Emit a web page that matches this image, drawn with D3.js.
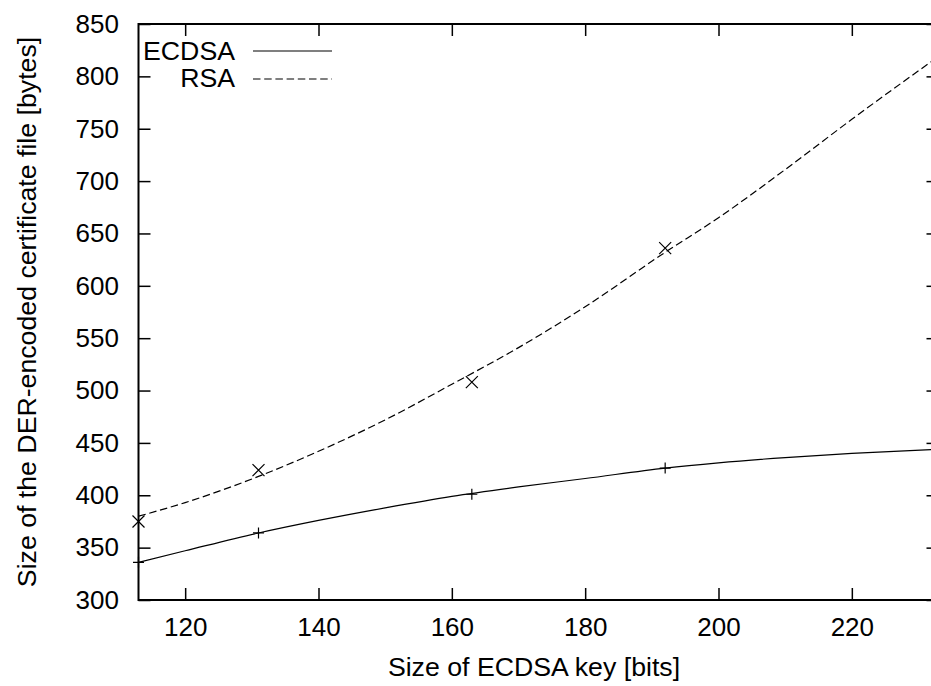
<!DOCTYPE html>
<html>
<head>
<meta charset="utf-8">
<script src="https://cdn.jsdelivr.net/npm/d3@7"></script>
<style>
  html, body { margin: 0; padding: 0; background: #fff; }
  svg { display: block; font-family: "Liberation Sans", Arial, Helvetica, sans-serif; }
</style>
</head>
<body>
<svg id="chart" width="931" height="686"></svg>
<script>
// Measured certificate sizes for each ECDSA key size
const keyBits    = [113, 131, 163, 192];
const ecdsaBytes = [336, 364, 401, 426];
const rsaBytes   = [375, 424, 508, 636];

// Fitted trend curves, sampled along the key-size axis
const fitBits  = [113, 120, 131, 140, 150, 160, 170, 180, 192, 200, 210, 220, 233];
const ecdsaFit = [336, 347, 364, 376, 388, 399, 408, 416, 426, 431, 436, 440, 444];
const rsaFit   = [380, 393, 418, 442, 472, 506, 541, 580, 632, 665, 711, 759, 819];

const xTicks = [120, 140, 160, 180, 200, 220];
const yTicks = [300, 350, 400, 450, 500, 550, 600, 650, 700, 750, 800, 850];

const seriesNames = ["ECDSA", "RSA"];
const xLabel = "Size of ECDSA key [bits]";
const yLabel = "Size of the DER-encoded certificate file [bytes]";

const svg = d3.select("#chart");
const W = 931, H = 686;
const m = { left: 138.5, top: 24, right: 938.5, bottom: 600 };
const TICK_FONT = 26;
const LABEL_FONT = 26.7;

svg.append("rect").attr("width", W).attr("height", H).attr("fill", "#fff");

const x = d3.scaleLinear().domain([113, 233]).range([m.left, m.right]);
const y = d3.scaleLinear().domain([300, 850]).range([m.bottom, m.top]);

const TICK = 12;

function styleAxis(g, showText) {
  g.select(".domain").remove();
  g.selectAll(".tick line").attr("stroke", "#000").attr("stroke-width", 1.5);
  g.selectAll(".tick text")
    .attr("fill", "#000")
    .style("font-size", TICK_FONT + "px")
    .style("font-family", "\"Liberation Sans\", Arial, Helvetica, sans-serif");
  if (!showText) g.selectAll(".tick text").remove();
}

// bottom axis with labels, inward ticks
svg.append("g")
  .attr("transform", `translate(0,${m.bottom})`)
  .call(d3.axisBottom(x).tickValues(xTicks).tickSize(-TICK).tickPadding(18))
  .call(g => styleAxis(g, true));

// top mirror ticks
svg.append("g")
  .attr("transform", `translate(0,${m.top})`)
  .call(d3.axisTop(x).tickValues(xTicks).tickSize(-TICK))
  .call(g => styleAxis(g, false));

// left axis with labels
svg.append("g")
  .attr("transform", `translate(${m.left},0)`)
  .call(d3.axisLeft(y).tickValues(yTicks).tickSize(-TICK).tickPadding(19.5))
  .call(g => styleAxis(g, true));

// right mirror ticks
svg.append("g")
  .attr("transform", `translate(${m.right},0)`)
  .call(d3.axisRight(y).tickValues(yTicks).tickSize(-TICK))
  .call(g => styleAxis(g, false));

// plot frame
svg.append("rect")
  .attr("x", m.left).attr("y", m.top)
  .attr("width", m.right - m.left).attr("height", m.bottom - m.top)
  .attr("fill", "none").attr("stroke", "#000").attr("stroke-width", 2);

// clip curves to the plot area
svg.append("clipPath").attr("id", "plotClip")
  .append("rect")
  .attr("x", m.left).attr("y", m.top)
  .attr("width", m.right - m.left).attr("height", m.bottom - m.top);

const line = d3.line()
  .x(d => x(d[0]))
  .y(d => y(d[1]))
  .curve(d3.curveMonotoneX);

const dash = "7.5,3.7";

const plot = svg.append("g").attr("clip-path", "url(#plotClip)");
plot.append("path")
  .attr("d", line(fitBits.map((b, i) => [b, ecdsaFit[i]])))
  .attr("fill", "none").attr("stroke", "#000").attr("stroke-width", 1.2);
plot.append("path")
  .attr("d", line(fitBits.map((b, i) => [b, rsaFit[i]])))
  .attr("fill", "none").attr("stroke", "#000").attr("stroke-width", 1.2)
  .attr("stroke-dasharray", dash);

// markers: plus for ECDSA, cross for RSA
const P = 5.5, X = 6;
const marks = svg.append("g").attr("stroke", "#000").attr("stroke-width", 1.2);
keyBits.forEach((b, i) => {
  const cx = x(b), cy = y(ecdsaBytes[i]);
  marks.append("path").attr("d", `M${cx - P},${cy}H${cx + P}M${cx},${cy - P}V${cy + P}`);
  const rx = x(b), ry = y(rsaBytes[i]);
  marks.append("path").attr("d", `M${rx - X},${ry - X}L${rx + X},${ry + X}M${rx - X},${ry + X}L${rx + X},${ry - X}`);
});

// legend
const legend = svg.append("g");
const legRows = [
  { name: seriesNames[0], base: 60, ly: 51, dash: null },
  { name: seriesNames[1], base: 87, ly: 79, dash: dash }
];
legRows.forEach(r => {
  legend.append("text")
    .attr("x", 235).attr("y", r.base)
    .attr("text-anchor", "end")
    .style("font-size", LABEL_FONT + "px")
    .attr("fill", "#000")
    .text(r.name);
  const l = legend.append("line")
    .attr("x1", 253).attr("x2", 332)
    .attr("y1", r.ly).attr("y2", r.ly)
    .attr("stroke", "#000").attr("stroke-width", 1.2);
  if (r.dash) l.attr("stroke-dasharray", r.dash);
});

// axis titles
svg.append("text")
  .attr("x", 534).attr("y", 676)
  .attr("text-anchor", "middle")
  .style("font-size", LABEL_FONT + "px")
  .attr("fill", "#000")
  .text(xLabel);

svg.append("text")
  .attr("transform", `translate(35.5,${(m.top + m.bottom) / 2}) rotate(-90)`)
  .attr("text-anchor", "middle")
  .style("font-size", LABEL_FONT + "px")
  .attr("fill", "#000")
  .text(yLabel);
</script>
</body>
</html>
